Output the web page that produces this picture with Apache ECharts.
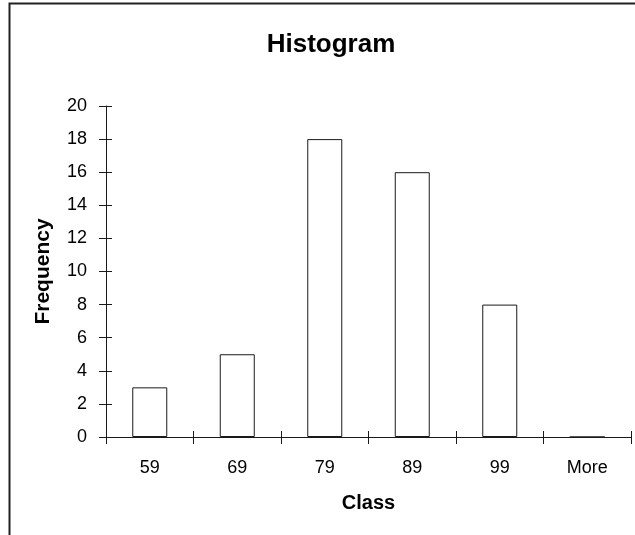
<!DOCTYPE html>
<html>
<head>
<meta charset="utf-8">
<script src="https://cdn.jsdelivr.net/npm/echarts@6/dist/echarts.min.js"></script>
<style>
  html, body { margin: 0; padding: 0; background: #fff; }
  #main { width: 635px; height: 535px; }
</style>
</head>
<body>
<div id="main"></div>
<script>
// histogram bins and counts
var classes = ['59', '69', '79', '89', '99', 'More'];
var frequency = [3, 5, 18, 16, 8, 0];
var yTicks = { min: 0, max: 20, interval: 2 };

var font = 'Liberation Sans, Arial, sans-serif';
var ink = '#1a1a1a';

var myChart = echarts.init(document.getElementById('main'));

myChart.setOption({
  backgroundColor: '#fff',
  animation: false,
  title: {
    text: 'Histogram',
    left: 326,
    top: 27,
    textAlign: 'center',
    textStyle: { fontFamily: font, fontSize: 26, fontWeight: 'bold', color: '#000' }
  },
  grid: { left: 106, right: 4, top: 106, bottom: 98 },
  xAxis: [{
    type: 'category',
    data: classes,
    name: 'Class',
    nameLocation: 'middle',
    nameGap: 56,
    nameTextStyle: { fontFamily: font, fontSize: 20, fontWeight: 'bold', color: '#000' },
    axisLine: { show: true, lineStyle: { color: ink, width: 1 } },
    axisTick: { show: true, alignWithLabel: false, interval: 0, length: 7, lineStyle: { color: ink } },
    axisLabel: { margin: 22, interval: 0, fontFamily: font, fontSize: 18, color: '#000' }
  }, {
    // inner half of the crossing ticks
    type: 'category',
    data: classes,
    position: 'bottom',
    axisLine: { show: false },
    axisTick: { show: true, inside: true, alignWithLabel: false, interval: 0, length: 6, lineStyle: { color: ink } },
    axisLabel: { show: false }
  }],
  yAxis: [{
    type: 'value',
    min: yTicks.min,
    max: yTicks.max,
    interval: yTicks.interval,
    name: 'Frequency',
    nameLocation: 'middle',
    nameGap: 52,
    nameTextStyle: { fontFamily: font, fontSize: 21, fontWeight: 'bold', color: '#000' },
    splitLine: { show: false },
    axisLine: { show: true, lineStyle: { color: ink, width: 1 } },
    axisTick: { show: true, length: 7, lineStyle: { color: ink } },
    axisLabel: { margin: 19, fontFamily: font, fontSize: 18, color: '#000' }
  }, {
    // inner half of the y ticks
    type: 'value',
    min: yTicks.min,
    max: yTicks.max,
    interval: yTicks.interval,
    position: 'left',
    splitLine: { show: false },
    axisLine: { show: false },
    axisTick: { show: true, inside: true, length: 6, lineStyle: { color: ink } },
    axisLabel: { show: false }
  }],
  series: [{
    type: 'bar',
    xAxisIndex: 0,
    yAxisIndex: 0,
    data: frequency,
    barWidth: '40%',
    itemStyle: { color: '#fff', borderColor: ink, borderWidth: 1 }
  }],
  graphic: [{
    type: 'rect',
    shape: { x: 9.5, y: 3.5, width: 700, height: 600 },
    style: { fill: 'none', stroke: '#222', lineWidth: 2 },
    silent: true
  }]
});
</script>
</body>
</html>
